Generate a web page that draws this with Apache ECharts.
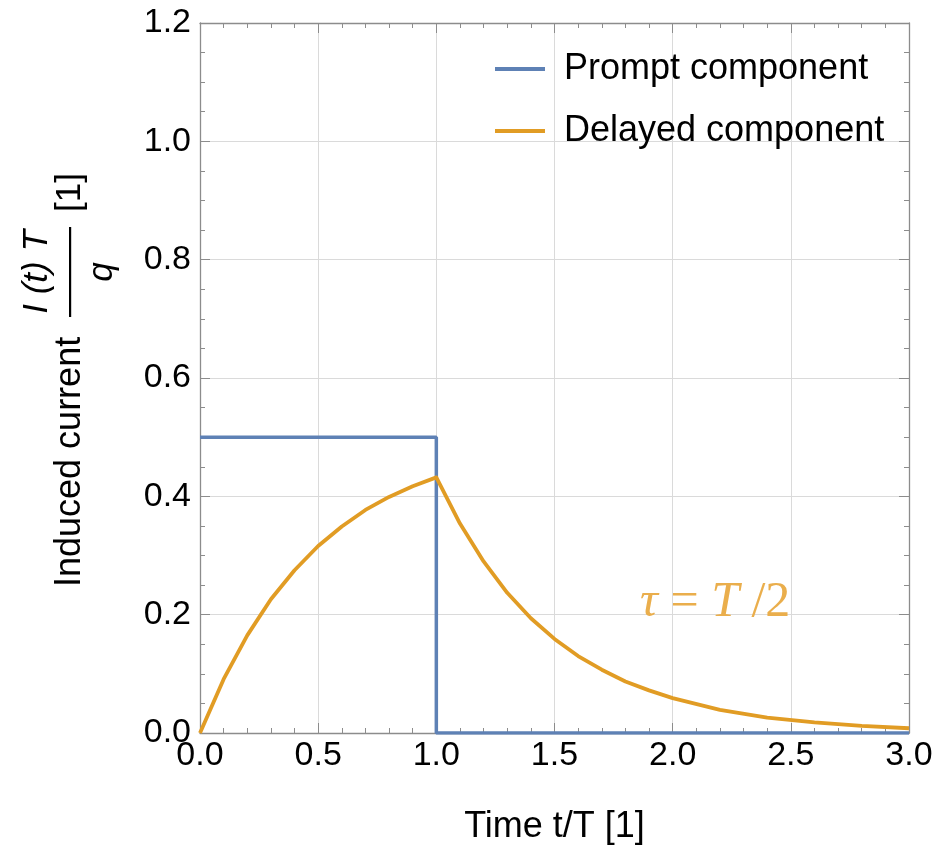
<!DOCTYPE html>
<html>
<head>
<meta charset="utf-8">
<script src="https://cdn.jsdelivr.net/npm/echarts@6/dist/echarts.min.js"></script>
<style>html,body{margin:0;padding:0;background:#fff;}#c{width:946px;height:859px;}</style>
</head>
<body>
<div id="c"></div>
<script>
// ---- data ----
var promptT = [0, 1, 1, 3];
var promptI = [0.5, 0.5, 0, 0];
var delayedT = [0, 0.1, 0.2, 0.3, 0.4, 0.5, 0.6, 0.7, 0.8, 0.9, 1.0, 1.1, 1.2, 1.3, 1.4, 1.5, 1.6, 1.7, 1.8, 1.9, 2.0, 2.2, 2.4, 2.6, 2.8, 3.0];
var delayedI = [0, 0.091, 0.165, 0.226, 0.275, 0.316, 0.349, 0.377, 0.399, 0.417, 0.432, 0.354, 0.290, 0.237, 0.194, 0.159, 0.130, 0.107, 0.087, 0.072, 0.059, 0.039, 0.026, 0.018, 0.012, 0.008];
var seriesNames = ['Prompt component', 'Delayed component'];
var xTicks = {min: 0, max: 3, interval: 0.5};
var yTicks = {min: 0, max: 1.2, interval: 0.2};
var xName = 'Time t/T [1]';
var yNameText = 'Induced current';
var annotation = {x: 2.18, y: 0.22};

var BLUE = '#5E81B5', ORANGE = '#E19C24';
var FONT = 'Liberation Sans';
var chart = echarts.init(document.getElementById('c'));

function zip(a, b) { return a.map(function (v, i) { return [v, b[i]]; }); }

var TICKC = '#8c8c8c';
var gridLine = {show: true, lineStyle: {color: '#dadada', width: 1}};
var axLine = {show: true, onZero: false, lineStyle: {color: '#8c8c8c', width: 1.3}};
var tick = {show: true, inside: true, length: 10, lineStyle: {color: TICKC, width: 1}};
var minorTickX = {show: true, splitNumber: 5, length: 5, lineStyle: {color: TICKC, width: 1}};
var minorTickY = {show: true, splitNumber: 4, length: 5, lineStyle: {color: TICKC, width: 1}};
var lbl = {color: '#000', fontFamily: FONT, fontSize: 34, formatter: function (v) { return v.toFixed(1); }};
var lineIcon = 'path://M0,0H50V4H0Z';

var option = {
  animation: false,
  backgroundColor: '#fff',
  grid: {left: 200, right: 37, top: 23, bottom: 126, containLabel: false},
  legend: {
    orient: 'vertical', left: 490, top: 46, itemGap: 26,
    itemWidth: 50, itemHeight: 4,
    textStyle: {fontFamily: FONT, fontSize: 36, color: '#000', padding: [0, 0, 0, 14]},
    data: [{name: seriesNames[0], icon: lineIcon}, {name: seriesNames[1], icon: lineIcon}]
  },
  xAxis: [{
    type: 'value', min: xTicks.min, max: xTicks.max, interval: xTicks.interval,
    axisLine: axLine, axisTick: tick, minorTick: minorTickX, splitLine: gridLine,
    axisLabel: Object.assign({margin: 6}, lbl),
    name: xName, nameLocation: 'middle', nameGap: 76,
    nameTextStyle: {fontFamily: FONT, fontSize: 36, color: '#000'}
  }, {
    type: 'value', position: 'top', min: xTicks.min, max: xTicks.max, interval: xTicks.interval,
    axisLine: axLine, axisTick: tick, minorTick: minorTickX, splitLine: {show: false},
    axisLabel: {show: false}
  }],
  yAxis: [{
    type: 'value', min: yTicks.min, max: yTicks.max, interval: yTicks.interval,
    axisLine: axLine, axisTick: tick, minorTick: minorTickY, splitLine: gridLine,
    axisLabel: Object.assign({margin: 9}, lbl)
  }, {
    type: 'value', position: 'right', min: yTicks.min, max: yTicks.max, interval: yTicks.interval,
    axisLine: axLine, axisTick: tick, minorTick: minorTickY, splitLine: {show: false},
    axisLabel: {show: false}
  }],
  series: [{
    name: seriesNames[0], type: 'line', data: zip(promptT, promptI), xAxisIndex: 1, yAxisIndex: 1,
    symbol: 'none', color: BLUE, lineStyle: {color: BLUE, width: 3.5}, z: 3
  }, {
    name: seriesNames[1], type: 'line', data: zip(delayedT, delayedI),
    symbol: 'none', smooth: false, color: ORANGE,
    lineStyle: {color: ORANGE, width: 3.8, join: 'round'}, z: 4
  }]
};
chart.setOption(option);

var pos = chart.convertToPixel({gridIndex: 0}, [annotation.x, annotation.y]);
chart.setOption({
  graphic: [{
    type: 'group', x: 70, y: 587, rotation: Math.PI / 2,
    children: [
      {type: 'text', x: 0, y: 0, style: {text: yNameText, font: '36px "Liberation Sans"', fill: '#000', textAlign: 'left', textVerticalAlign: 'middle'}},
      {type: 'rect', shape: {x: 270, y: -1, width: 90, height: 2.2}, style: {fill: '#000'}},
      {type: 'text', x: 315, y: -33, style: {text: 'I (t) T', font: 'italic 35px "Liberation Sans"', fill: '#000', textAlign: 'center', textVerticalAlign: 'middle'}},
      {type: 'text', x: 315, y: 32, style: {text: 'q', font: 'italic 35px "Liberation Sans"', fill: '#000', textAlign: 'center', textVerticalAlign: 'middle'}},
      {type: 'text', x: 375, y: 0, style: {text: '[1]', font: '35px "Liberation Sans"', fill: '#000', textAlign: 'left', textVerticalAlign: 'middle'}}
    ]
  }, {
    type: 'text', x: pos[0], y: pos[1],
    style: {
      text: '{i|τ} {r|=} {i|T}{r| /2}',
      textAlign: 'center', textVerticalAlign: 'middle',
      rich: {
        i: {font: 'italic 50px "Liberation Serif"', fill: '#EAAE4C'},
        r: {font: '50px "Liberation Serif"', fill: '#EAAE4C'}
      },
      font: '50px "Liberation Serif"', fill: '#EAAE4C'
    }
  }]
});
</script>
</body>
</html>
